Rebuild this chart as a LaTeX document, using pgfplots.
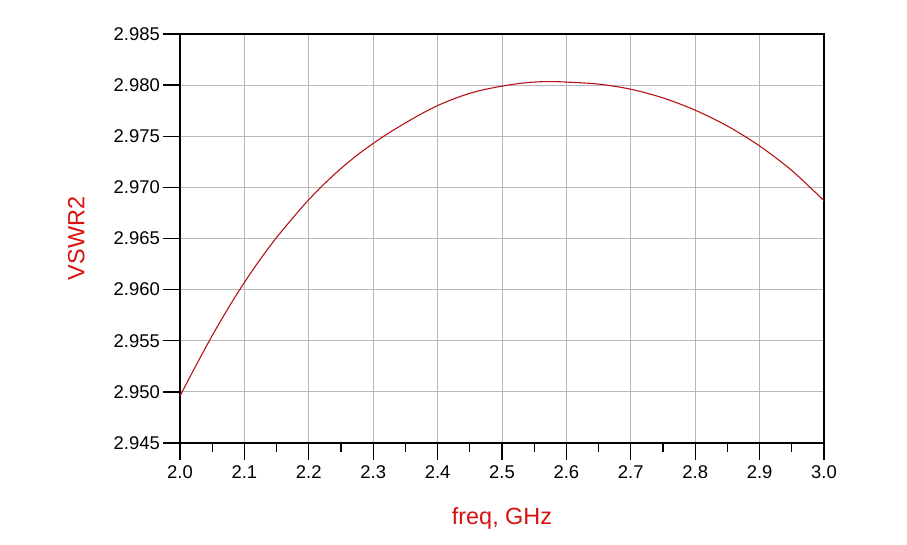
\documentclass[border=0pt]{standalone}
\usepackage{fontspec}
\setmainfont{Liberation Sans}
\usepackage{pgfplots}
\pgfplotsset{compat=1.18}
\definecolor{trace}{HTML}{B41418}
\definecolor{labred}{HTML}{D81010}
\definecolor{gridgray}{HTML}{B8B8B8}

\begin{document}
\begin{tikzpicture}
\useasboundingbox (-180bp,-102bp) rectangle (727bp,443bp);
\begin{axis}[
    at={(0,0)}, anchor=south west,
    scale only axis,
    width=644bp, height=409bp,
    xmin=2.0, xmax=3.0,
    ymin=2.945, ymax=2.985,
    xtick={2.0,2.1,...,3.0},
    ytick={2.945,2.950,...,2.985},
    minor x tick num=1,
    xtick pos=bottom, ytick pos=left,
    tick align=outside,
    major tick length=17bp,
    minor tick length=9bp,
    grid=major,
    major grid style={gridgray, line width=1bp},
    axis line style={black, line width=1.5bp},
    every tick/.style={black, line width=1.3bp},
    /pgf/number format/assume math mode=true,
    xticklabel={\pgfmathprintnumber[fixed, fixed zerofill, precision=1]{\tick}},
    yticklabel={\pgfmathprintnumber[fixed, fixed zerofill, precision=3]{\tick}},
    tick label style={font=\fontsize{18.5}{20}\selectfont, black},
    yticklabel style={inner sep=0pt, xshift=-3bp},
    xticklabel style={inner sep=0pt, yshift=-5bp},
    scaled y ticks=false,
    xlabel={freq, GHz},
    ylabel={VSWR2},
    xlabel style={at={(axis description cs:0.5,-0.1834)}, anchor=center, font=\fontsize{23.5}{26}\selectfont, text=labred},
    ylabel style={at={(axis description cs:-0.161,0.5)}, anchor=center, font=\fontsize{23.5}{26}\selectfont, text=labred},
]
\addplot[trace, line width=1.1bp, smooth, tension=0.5] coordinates {
    (2.000,2.9496) (2.025,2.9526) (2.050,2.9555) (2.075,2.9582)
    (2.100,2.9607) (2.125,2.9630) (2.150,2.9651) (2.175,2.9670)
    (2.200,2.9688) (2.225,2.9704) (2.250,2.97185) (2.275,2.97315)
    (2.300,2.9743) (2.325,2.97535) (2.350,2.9763) (2.375,2.9772)
    (2.400,2.9780) (2.425,2.97865) (2.450,2.9792) (2.475,2.9796)
    (2.500,2.9799) (2.525,2.98015) (2.550,2.9803) (2.575,2.98035)
    (2.600,2.9803) (2.650,2.9801) (2.700,2.9796) (2.750,2.97875)
    (2.800,2.97755) (2.850,2.9760) (2.900,2.97405) (2.950,2.97165)
    (3.000,2.9687)};
\end{axis}
\end{tikzpicture}
\end{document}
